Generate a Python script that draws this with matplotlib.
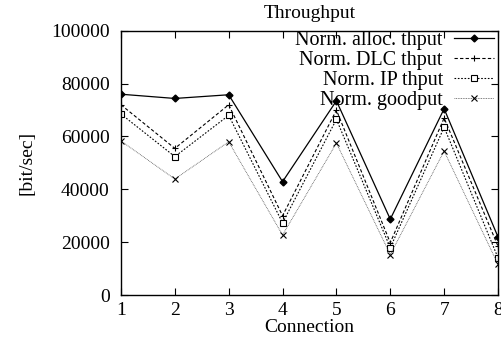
import matplotlib
matplotlib.use('Agg')
import matplotlib.pyplot as plt

# connection index and per-connection throughput [bit/sec]
connections = [1, 2, 3, 4, 5, 6, 7, 8]
alloc_thput = [76000, 74400, 75800, 42900, 73500, 28700, 70500, 22000]
dlc_thput = [72000, 55500, 72000, 30000, 70000, 19800, 67000, 18500]
ip_thput = [68500, 52400, 68000, 27300, 66500, 17900, 63500, 14100]
goodput = [58300, 43900, 58000, 22700, 57500, 15300, 54500, 11600]

labels = ['Norm. alloc. thput', 'Norm. DLC thput', 'Norm. IP thput', 'Norm. goodput']

plt.rcParams['font.family'] = ['Liberation Serif', 'DejaVu Serif']
plt.rcParams['font.size'] = 14

fig = plt.figure(figsize=(5.02, 3.44), dpi=100)
ax = fig.add_axes([0.241, 0.1424, 0.751, 0.768])

ax.plot(connections, alloc_thput, color='black', lw=0.9, marker='D', ms=3.5,
        mfc='black', label=labels[0])
ax.plot(connections, dlc_thput, color='black', lw=0.8, ls=(0, (3, 2)), marker='+',
        ms=5, mew=0.8, label=labels[1])
ax.plot(connections, ip_thput, color='black', lw=0.8, ls=(0, (1.5, 1.5)), marker='s',
        ms=4, mfc='white', mew=0.8, label=labels[2])
ax.plot(connections, goodput, color='#555555', lw=0.6, ls=(0, (1, 1)), marker='x',
        ms=4, mew=0.8, mec='black', label=labels[3])

ax.set_xlim(1, 8)
ax.set_ylim(0, 100000)
ax.set_xticks(connections)
ax.set_yticks(range(0, 100001, 20000))
ax.tick_params(direction='in', top=True, right=True, length=5, width=0.8)
ax.tick_params(axis='x', pad=5)
ax.tick_params(axis='y', pad=8)
for s in ax.spines.values():
    s.set_linewidth(1.0)

ax.set_title('Throughput', fontsize=14, pad=9)
ax.set_xlabel('Connection', labelpad=0)
ax.set_ylabel('[bit/sec]', labelpad=11)

ax.legend(loc='upper right', bbox_to_anchor=(0.99, 1.0), markerfirst=False,
          frameon=False, handlelength=2.0, handletextpad=0.55, labelspacing=0.05,
          borderaxespad=0.0, borderpad=0.0, fontsize=14.5)

plt.savefig('out.png', dpi=100)
plt.close()
